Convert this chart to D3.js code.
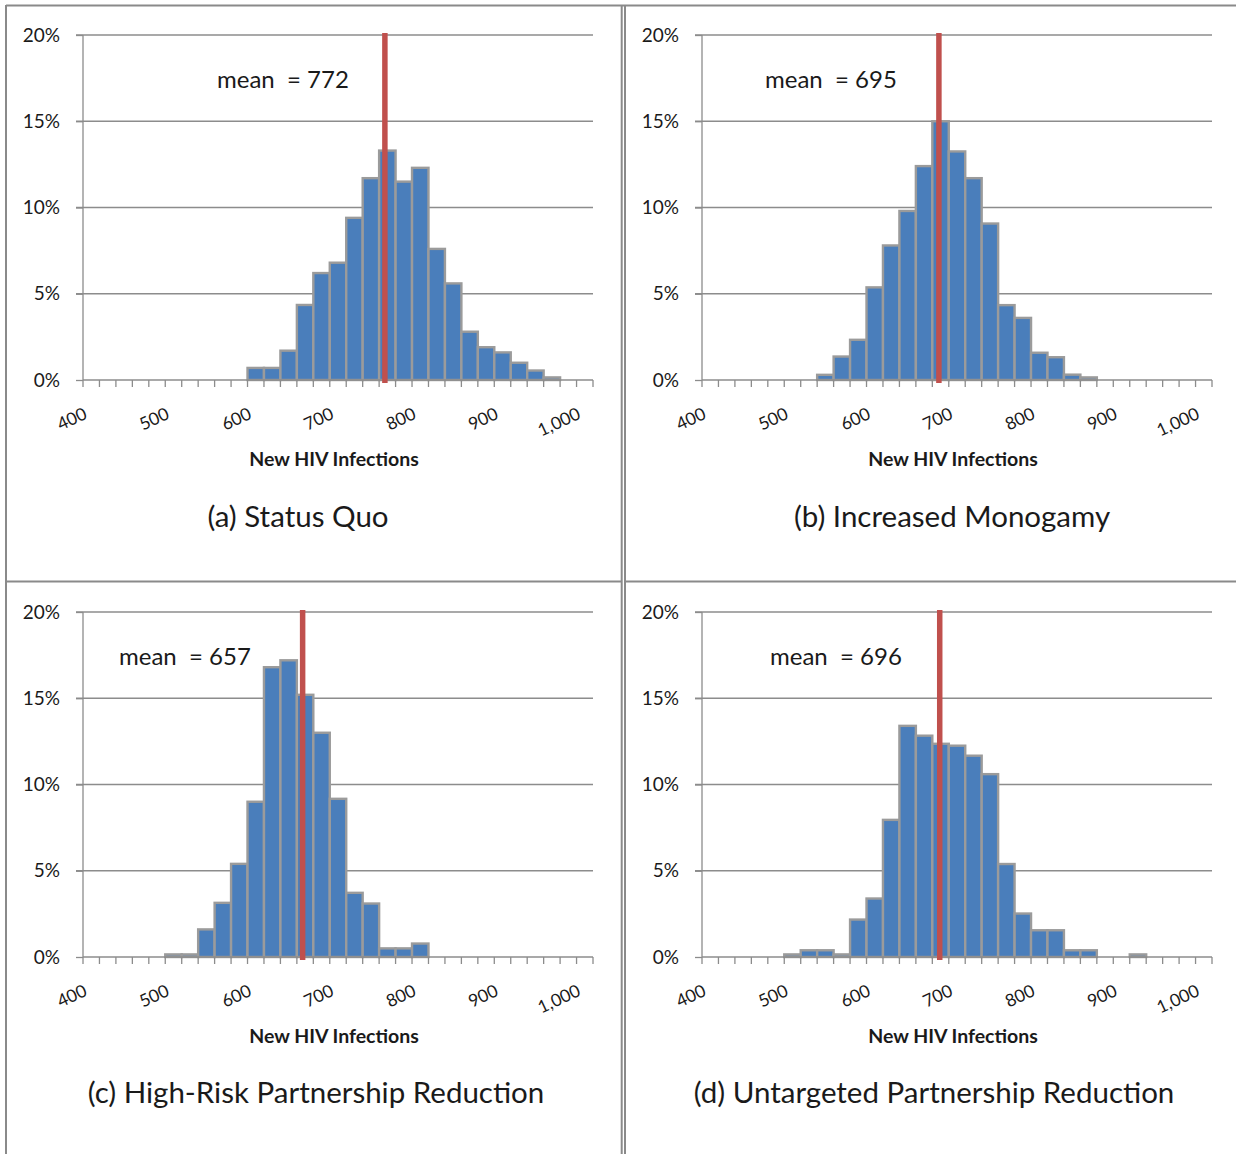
<!DOCTYPE html>
<html>
<head>
<meta charset="utf-8">
<script src="https://cdn.jsdelivr.net/npm/d3@7"></script>
<style>
  html, body { margin: 0; padding: 0; background: #fff; }
  svg { display: block; }
  text { font-family: Lato, "Open Sans", sans-serif; fill: #1a1a1a; font-variant-numeric: lining-nums; font-feature-settings: "lnum" 1; }
</style>
</head>
<body>
<svg id="chart" width="1236" height="1154"></svg>
<script>
// ---------- DATA ----------
const binStarts = [400,420,440,460,480,500,520,540,560,580,600,620,640,660,680,700,720,740,760,780,800,820,840,860,880,900,920,940,960,980,1000];
const xTickLabels = [400,500,600,700,800,900,1000];
const yTicks = [0,5,10,15,20];

const statusQuo   = [0,0,0,0,0, 0,0,0,0,0, 0.7,0.7,1.7,4.35,6.2, 6.8,9.4,11.7,13.3,11.5, 12.3,7.6,5.6,2.8,1.9, 1.6,1.0,0.55,0.15,0, 0];
const monogamy    = [0,0,0,0,0, 0,0,0.3,1.36,2.33, 5.37,7.8,9.8,12.4,15.0, 13.25,11.7,9.07,4.34,3.6, 1.58,1.32,0.31,0.15,0, 0,0,0,0,0, 0];
const highRisk    = [0,0,0,0,0, 0.15,0.15,1.6,3.14,5.4, 9.0,16.8,17.2,15.2,13.0, 9.17,3.72,3.1,0.5,0.5, 0.78,0,0,0,0, 0,0,0,0,0, 0];
const untargeted  = [0,0,0,0,0, 0.15,0.39,0.39,0.15,2.17, 3.39,7.95,13.4,12.83,12.36, 12.25,11.67,10.6,5.39,2.52, 1.55,1.55,0.39,0.39,0, 0,0.15,0,0,0, 0];

const panelTitles = ["(a) Status Quo", "(b) Increased Monogamy", "(c) High-Risk Partnership Reduction", "(d) Untargeted Partnership Reduction"];
const meanValues  = [772, 695, 657, 696];      // printed means
const meanLineAt  = [767, 688, 667, 689];      // where the red line is drawn
const xAxisTitle  = "New HIV Infections";

// ---------- LAYOUT ----------
const series = [statusQuo, monogamy, highRisk, untargeted];
const layout = [
  {x: 83,  y: 35,  labelDx: 134, titleCx: 298, titleY: 527},
  {x: 702, y: 35,  labelDx: 63,  titleCx: 952, titleY: 527},
  {x: 83,  y: 612, labelDx: 36,  titleCx: 316, titleY: 1103},
  {x: 702, y: 612, labelDx: 68,  titleCx: 934, titleY: 1103}
];
const W = 510, H = 345;
const gridColor = "#8c8c8c";
const barFill = "#4a7ebb";
const barStroke = "#9b9b9b";
const meanColor = "#c0504d";
const textColor = "#222";

const svg = d3.select("#chart");

// Panel frame lines
const frame = svg.append("g").attr("stroke", "#8a8a8a").attr("stroke-width", 2).attr("fill", "none");
frame.append("line").attr("x1", 6).attr("x2", 1236).attr("y1", 5.5).attr("y2", 5.5);
frame.append("line").attr("x1", 6).attr("x2", 6).attr("y1", 5).attr("y2", 1154);
frame.append("line").attr("x1", 621.7).attr("x2", 621.7).attr("y1", 5).attr("y2", 1154);
frame.append("line").attr("x1", 625).attr("x2", 625).attr("y1", 5).attr("y2", 1154);
frame.append("line").attr("x1", 6).attr("x2", 621.7).attr("y1", 581.5).attr("y2", 581.5);
frame.append("line").attr("x1", 625).attr("x2", 1236).attr("y1", 581.5).attr("y2", 581.5);

const x = d3.scaleBand().domain(binStarts).range([0, W]).padding(0);
const xVal = d3.scaleLinear().domain([400, 1020]).range([0, W]);
const y = d3.scaleLinear().domain([0, 20]).range([H, 0]);

series.forEach((vals, i) => {
  const L = layout[i];
  const g = svg.append("g").attr("transform", `translate(${L.x},${L.y})`);

  // gridlines
  g.append("g").selectAll("line").data(yTicks.filter(d => d > 0)).join("line")
    .attr("x1", -7).attr("x2", W)
    .attr("y1", d => y(d)).attr("y2", d => y(d))
    .attr("stroke", gridColor).attr("stroke-width", 1.3);

  // y axis
  const yAxis = d3.axisLeft(y).tickValues(yTicks).tickFormat(d => d + "%").tickSize(7).tickPadding(16);
  const ya = g.append("g").call(yAxis);
  ya.select(".domain").attr("stroke", gridColor).attr("stroke-width", 1.3).attr("d", `M0,${H}V0`);
  ya.selectAll(".tick line").attr("stroke", gridColor).attr("stroke-width", 1.3);
  ya.selectAll(".tick text").attr("font-size", 19).attr("font-family", "Lato").attr("fill", textColor);

  // bars
  g.append("g").selectAll("rect").data(binStarts.map((b, k) => ({b, v: vals[k]})).filter(d => d.v > 0)).join("rect")
    .attr("x", d => x(d.b)).attr("width", x.bandwidth())
    .attr("y", d => y(d.v)).attr("height", d => H - y(d.v))
    .attr("fill", barFill).attr("stroke", barStroke).attr("stroke-width", 2.4);

  // x axis: ticks at band boundaries
  const boundaries = binStarts.map(b => x(b)).concat([W]);
  const xa = g.append("g").attr("transform", `translate(0,${H})`);
  xa.append("line").attr("x1", 0).attr("x2", W).attr("y1", 0).attr("y2", 0)
    .attr("stroke", gridColor).attr("stroke-width", 1.3);
  xa.selectAll("line.tk").data(boundaries).join("line").attr("class", "tk")
    .attr("x1", d => d).attr("x2", d => d).attr("y1", 0).attr("y2", 7)
    .attr("stroke", gridColor).attr("stroke-width", 1.3);
  xa.selectAll("text").data(xTickLabels).join("text")
    .attr("transform", d => `translate(${x(d) + x.bandwidth() / 2 - 3},38) rotate(-25)`)
    .attr("text-anchor", "end")
    .attr("font-family", "'Noto Sans', 'Open Sans', sans-serif")
    .attr("font-size", 17.5)
    .attr("fill", textColor)
    .text(d => d3.format(",")(d));

  // x axis title
  g.append("text").attr("x", W / 2 - 4).attr("y", H + 86).attr("text-anchor", "middle")
    .attr("font-size", 19.5).attr("font-weight", "bold").attr("fill", textColor).text(xAxisTitle);

  // mean line
  g.append("line")
    .attr("x1", xVal(meanLineAt[i])).attr("x2", xVal(meanLineAt[i]))
    .attr("y1", y(20) - 2).attr("y2", H + 3)
    .attr("stroke", meanColor).attr("stroke-width", 5.5);

  // mean label
  g.append("text").attr("x", L.labelDx).attr("y", 53).attr("font-size", 24)
    .attr("fill", textColor)
    .attr("xml:space", "preserve").style("white-space", "pre")
    .text(`mean  = ${meanValues[i]}`);

  // panel title
  svg.append("text").attr("x", L.titleCx).attr("y", L.titleY).attr("text-anchor", "middle")
    .attr("font-size", 29.5).attr("fill", textColor).text(panelTitles[i]);
});
</script>
</body>
</html>
